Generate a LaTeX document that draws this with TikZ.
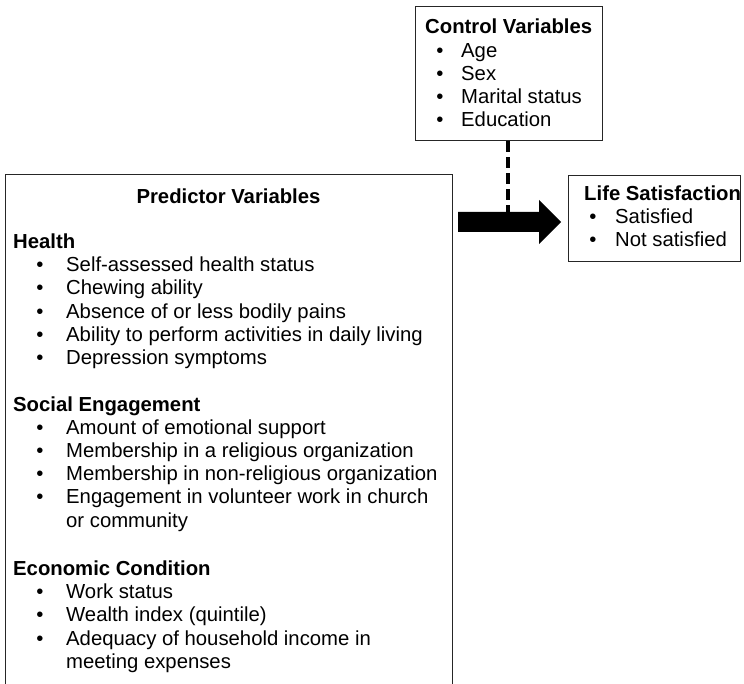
\documentclass[tikz,border=0pt]{standalone}
\usepackage{fontspec}
\setmainfont{Liberation Sans}
\begin{document}
\begin{tikzpicture}[x=1pt,y=-1pt,
  font=\fontsize{20.3}{23}\selectfont,
  box/.style={draw=black!85, line width=1.3pt, fill=none, inner sep=0pt, anchor=north west},
  txt/.style={anchor=base west, inner sep=0pt},
  hd/.style={txt, font=\fontsize{20.3}{23}\selectfont\bfseries},
  bul/.style={anchor=base, inner sep=0pt}]
\useasboundingbox (0,0) rectangle (744,684);
\clip (0,0) rectangle (744,684);
% boxes
\node[box, minimum width=447pt, minimum height=540pt] (pred) at (5,174) {};
\node[box, minimum width=187pt, minimum height=134pt] (ctrl) at (415,6) {};
\node[box, minimum width=172pt, minimum height=86pt] (life) at (568,175) {};
% arrow
\fill[black] (458,212) -- (539,212) -- (539,200) -- (561,222) -- (539,244) -- (539,232) -- (458,232) -- cycle;
\coordinate (atop) at (508,212);
\draw[line width=3.3pt, dash pattern=on 11pt off 5pt] (ctrl.south -| atop) -- (atop);
% control variables
\node[hd] (ct) at (425,34) {Control Variables};
\node[bul] (cb1) at (440,58) {•}; \node[txt] (c1) at (461,58) {Age};
\node[bul] (cb2) at (440,81) {•}; \node[txt] (c2) at (461,81) {Sex};
\node[bul] (cb3) at (440,104) {•}; \node[txt] (c3) at (461,104) {Marital status};
\node[bul] (cb4) at (440,127) {•}; \node[txt] (c4) at (461,127) {Education};
% life satisfaction
\node[hd] (lt) at (584,201) {Life Satisfaction};
\node[bul] (lb1) at (593,224) {•}; \node[txt] (l1) at (615,224) {Satisfied};
\node[bul] (lb2) at (593,247) {•}; \node[txt] (l2) at (615,247) {Not satisfied};
% predictor variables
\node[anchor=base, inner sep=0pt, font=\fontsize{20.3}{23}\selectfont\bfseries] (pt) at (228.5,203.5) {Predictor Variables};
\node[hd] (hh) at (13,248.5) {Health};
\node[bul] (hb1) at (40,271.7) {•}; \node[txt] (h1) at (66,271.7) {Self-assessed health status};
\node[bul] (hb2) at (40,294.9) {•}; \node[txt] (h2) at (66,294.9) {Chewing ability};
\node[bul] (hb3) at (40,318.1) {•}; \node[txt] (h3) at (66,318.1) {Absence of or less bodily pains};
\node[bul] (hb4) at (40,341.3) {•}; \node[txt] (h4) at (66,341.3) {Ability to perform activities in daily living};
\node[bul] (hb5) at (40,364.5) {•}; \node[txt] (h5) at (66,364.5) {Depression symptoms};
\node[hd] (sh) at (13,411) {Social Engagement};
\node[bul] (sb1) at (40,434.3) {•}; \node[txt] (s1) at (66,434.3) {Amount of emotional support};
\node[bul] (sb2) at (40,457.5) {•}; \node[txt] (s2) at (66,457.5) {Membership in a religious organization};
\node[bul] (sb3) at (40,480.7) {•}; \node[txt] (s3) at (66,480.7) {Membership in non-religious organization};
\node[bul] (sb4) at (40,503.9) {•}; \node[txt] (s4) at (66,503.9) {Engagement in volunteer work in church};
\node[txt] (s5) at (66,527.1) {or community};
\node[hd] (eh) at (13,575.5) {Economic Condition};
\node[bul] (eb1) at (40,598.7) {•}; \node[txt] (e1) at (66,598.7) {Work status};
\node[bul] (eb2) at (40,621.9) {•}; \node[txt] (e2) at (66,621.9) {Wealth index (quintile)};
\node[bul] (eb3) at (40,645.1) {•}; \node[txt] (e3) at (66,645.1) {Adequacy of household income in};
\node[txt] (e4) at (66,668.3) {meeting expenses};
\end{tikzpicture}
\end{document}
